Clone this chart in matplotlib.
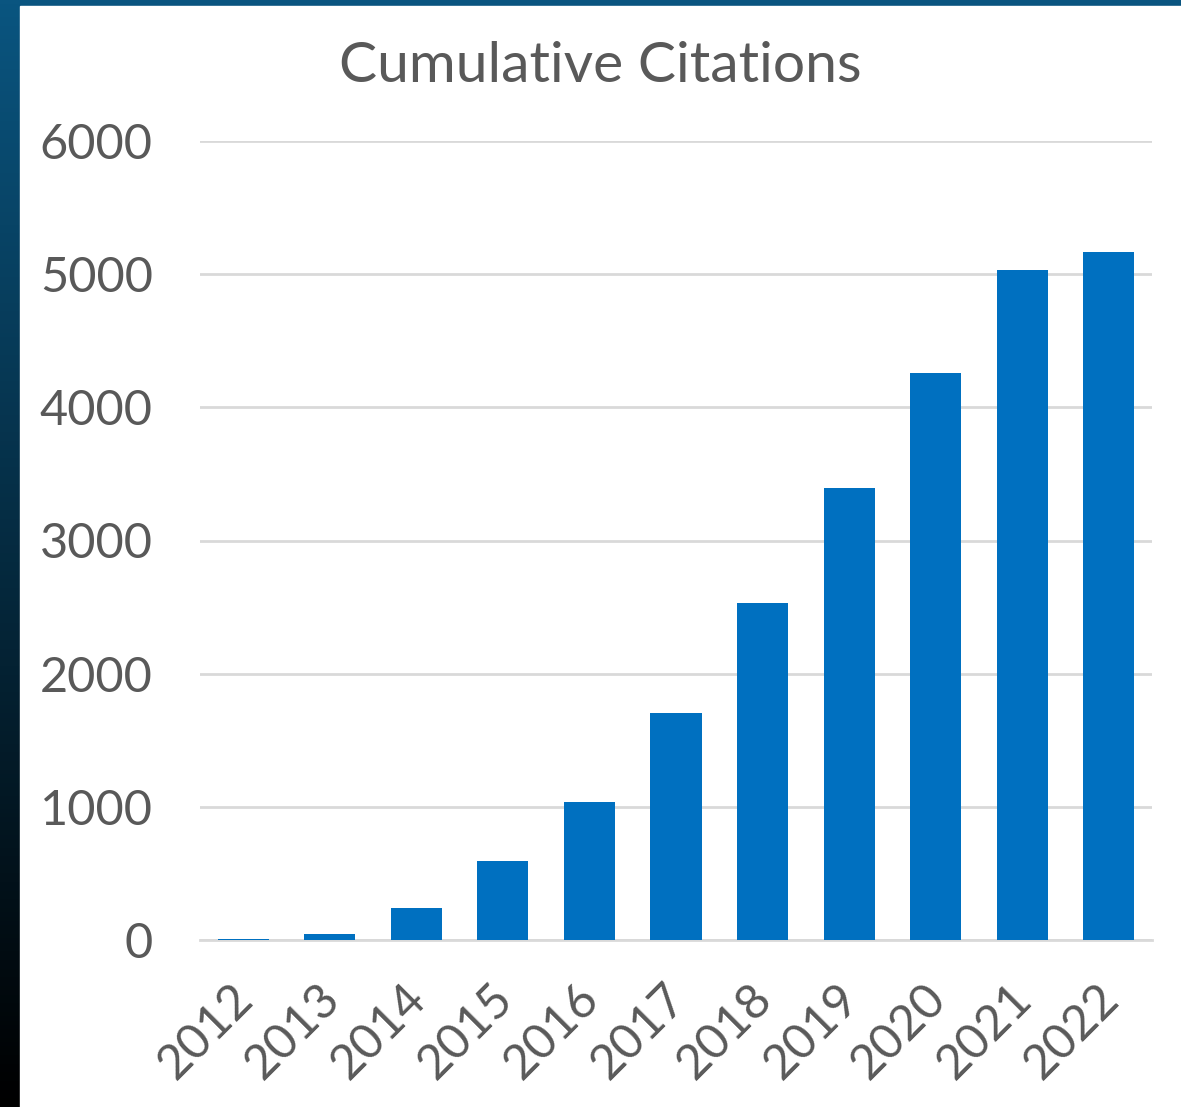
import numpy as np
import matplotlib.pyplot as plt
from matplotlib.patches import Rectangle
from matplotlib.transforms import ScaledTranslation

# data
years = ['2012', '2013', '2014', '2015', '2016', '2017',
         '2018', '2019', '2020', '2021', '2022']
citations = [5, 45, 240, 593, 1036, 1704, 2530, 3393, 4257, 5030, 5165]
yticks = [0, 1000, 2000, 3000, 4000, 5000, 6000]

text_color = '#595959'
bar_color = '#0070c0'
grid_color = '#d9d9d9'

plt.rcParams['font.family'] = ['Lato', 'DejaVu Sans']

fig = plt.figure(figsize=(11.81, 11.07), dpi=100)

# gradient frame (blue at top, black at bottom)
bg = fig.add_axes([0, 0, 1, 1], zorder=-10)
grad = np.linspace(0, 1, 256)[:, None]
top = np.array([0x0a, 0x55, 0x80]) / 255
bot = np.array([0x00, 0x00, 0x00])
img = top[None, None, :] * (1 - grad[..., None]) + bot[None, None, :] * grad[..., None]
bg.imshow(img, aspect='auto', extent=[0, 1, 0, 1])
bg.set_axis_off()
bg.add_patch(Rectangle((20 / 1181, 0), 1, 1 - 6 / 1107,
                       transform=bg.transAxes, color='white', zorder=2))

ax = fig.add_axes([200 / 1181, 1 - 940 / 1107,
                   952 / 1181, (940 - 141) / 1107])
ax.patch.set_alpha(0)
x = np.arange(len(years))
ax.bar(x, citations, width=0.59, color=bar_color, zorder=3)

ax.set_xlim(-0.5, len(years) - 0.5)
ax.set_ylim(0, 6000)
ax.set_yticks(yticks)
ax.set_yticklabels([str(v) for v in yticks])
ax.set_xticks(x)
ax.set_xticklabels(years, rotation=45, ha='right', rotation_mode='anchor')

ax.grid(axis='y', color=grid_color, linewidth=2, zorder=0)
for s in ['top', 'right', 'left']:
    ax.spines[s].set_visible(False)
ax.spines['bottom'].set_color(grid_color)
ax.spines['bottom'].set_linewidth(2)

ax.tick_params(axis='y', length=0, pad=34, labelsize=35, labelcolor=text_color)
ax.tick_params(axis='x', length=0, pad=26, labelsize=35, labelcolor=text_color)

# nudge the rotated year labels a bit to the left
shift = ScaledTranslation(-13 / 100, 0, fig.dpi_scale_trans)
for lbl in ax.get_xticklabels():
    lbl.set_transform(lbl.get_transform() + shift)

fig.text(0.508, 1 - 82 / 1107, 'Cumulative Citations', ha='center', va='baseline',
         fontsize=41, color=text_color)

fig.savefig('out.png', dpi=100)
